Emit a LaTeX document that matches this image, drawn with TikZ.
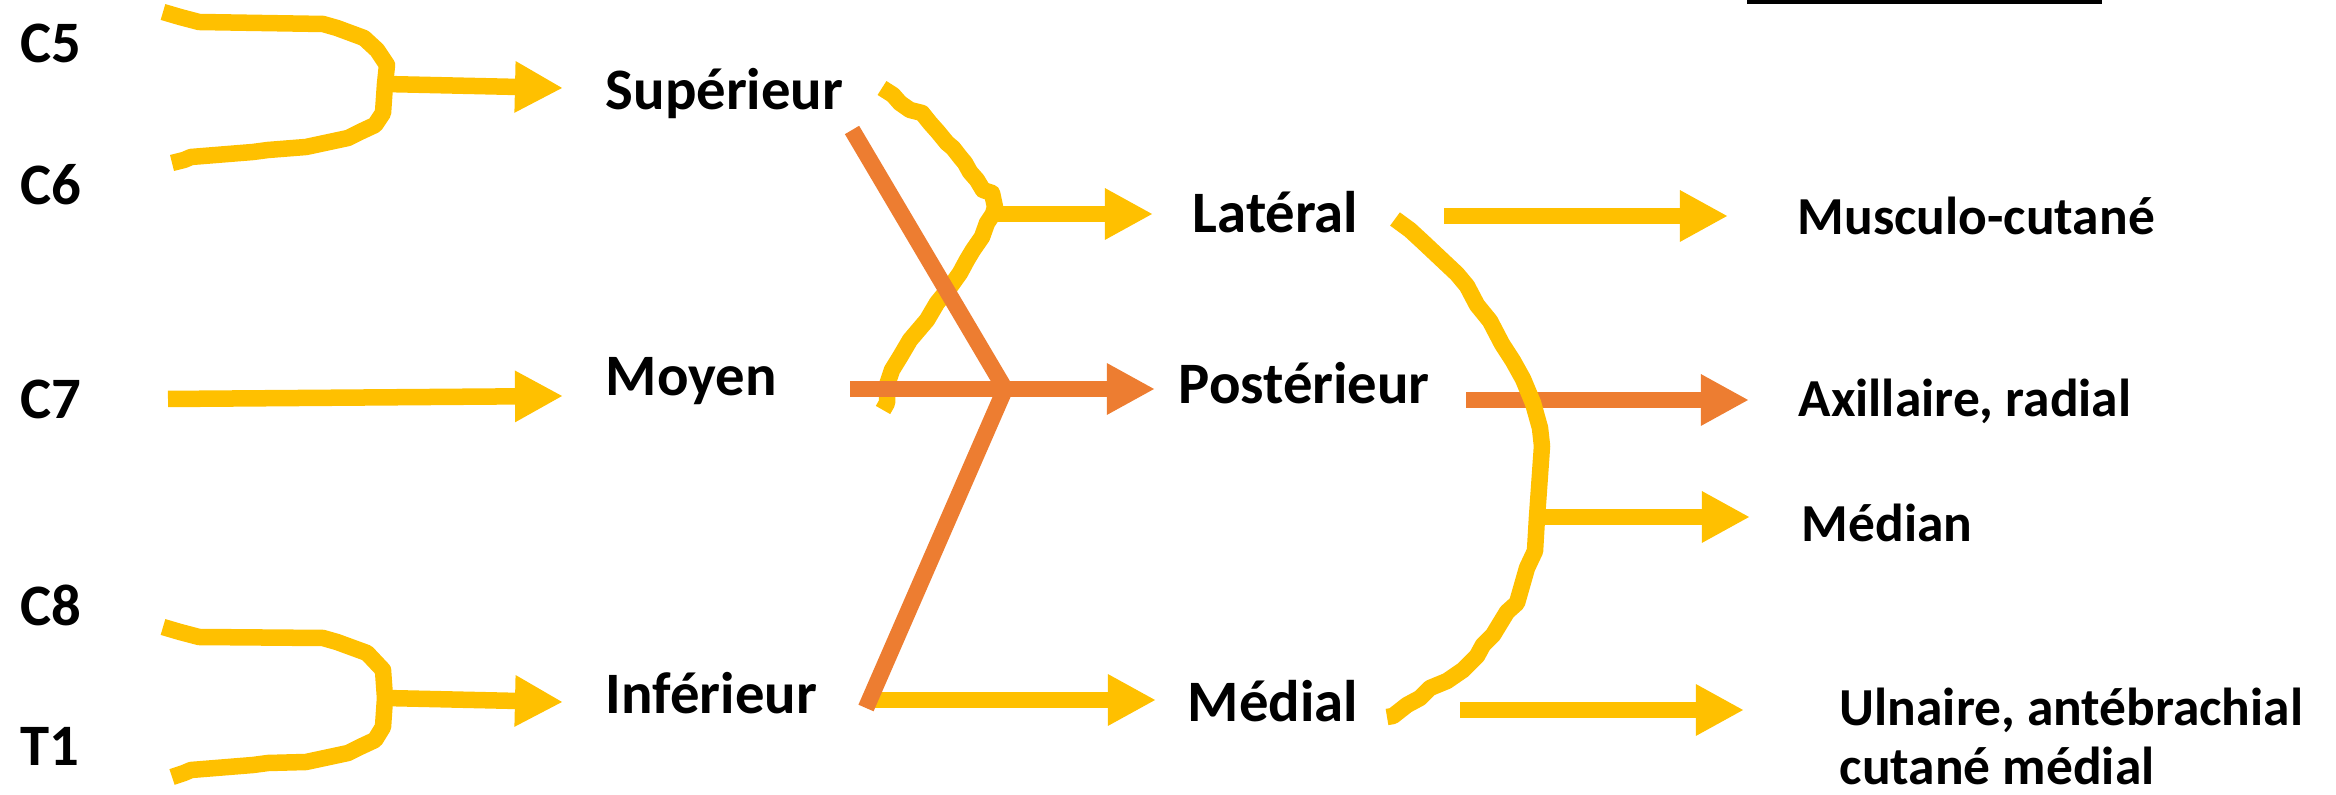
\documentclass[tikz,border=0pt]{standalone}
\usepackage{fontspec}
\setmainfont{Carlito}
\usetikzlibrary{arrows.meta}
\definecolor{gold}{HTML}{FFC000}
\definecolor{orng}{HTML}{ED7D31}
\tikzset{
  lbl/.style={anchor=base west, inner sep=0pt, font=\fontsize{15.2}{18}\selectfont\bfseries},
  lblb/.style={anchor=base west, inner sep=0pt, font=\fontsize{16.7}{20}\selectfont\bfseries},
  yl/.style={draw=gold, line width=0.165cm},
  ol/.style={draw=orng, line width=0.165cm},
  yarr/.style={yl, -{Triangle[length=0.48cm,width=0.48cm]}},
  oarr/.style={ol, -{Triangle[length=0.48cm,width=0.48cm]}},
  wavy/.style={yl, line join=round},
}
\begin{document}
\begin{tikzpicture}[x=0.01cm,y=-0.01cm]
\useasboundingbox (0,0) rectangle (2336,795);
% labels
\node[lblb] (c5) at (20,63) {C5};
\node[lblb] (c6) at (20,205) {C6};
\node[lblb] (c7) at (20,419) {C7};
\node[lblb] (c8) at (20,626) {C8};
\node[lblb] (t1) at (20,766) {T1};
\node[lblb] (sup) at (605,110) {Supérieur};
\node[lblb] (moy) at (605,396) {Moyen};
\node[lblb] (inf) at (605,714) {Inférieur};
\node[lblb] (lat) at (1192,233) {Latéral};
\node[lblb] (post) at (1178,404) {Postérieur};
\node[lblb] (med) at (1187,722) {Médial};
\node[lbl] (musc) at (1797,235) {Musculo-cutané};
\node[lbl] (axil) at (1798,417) {Axillaire, radial};
\node[lbl] (mdn) at (1801,542) {Médian};
\node[lbl] (ulnA) at (1839,726) {Ulnaire, antébrachial};
\node[lbl] (ulnB) at (1839,785) {cutané médial};
% top rule
\fill[black] (1747,0) rectangle (2102,4);
% coordinates
\coordinate (f1s) at (385,84);  \coordinate (f1t) at (563,88);
\coordinate (f2s) at (385,698); \coordinate (f2t) at (563,702);
\coordinate (c7s) at (168,399); \coordinate (c7t) at (563,396);
\coordinate (J1) at (993,214);  \coordinate (latT) at (1153,214);
\coordinate (supO) at (852,130); \coordinate (J2) at (1005,389); \coordinate (infO) at (866,708);
\coordinate (moyO) at (850,389); \coordinate (postT) at (1155,389);
\coordinate (infY) at (866,700); \coordinate (medT) at (1156,700);
\coordinate (latS) at (1444,216); \coordinate (muscT) at (1728,216);
\coordinate (postS) at (1466,400); \coordinate (axilT) at (1749,400);
\coordinate (J3) at (1537,517); \coordinate (mdnT) at (1750,517);
\coordinate (medS) at (1460,710); \coordinate (ulnT) at (1744,710);
% upper fork C5/C6
\draw[wavy] (163,12) -- (180,17) -- (199,22) -- (323,24) -- (337,28) -- (364,38) -- (377,50) -- (387,65) -- (385,84)
  -- (383,113) -- (375,125) -- (360,132) -- (348,138) -- (306,147) -- (268,150) -- (253,152) -- (191,157) -- (184,160) -- (172,163);
\draw[yarr] (f1s) -- (f1t);
% C7
\draw[yarr] (c7s) -- (c7t);
% lower fork C8/T1
\draw[wavy] (163,627) -- (180,632) -- (199,637) -- (323,638) -- (337,642) -- (367,653) -- (383,670) -- (385,698)
  -- (383,727) -- (375,740) -- (360,747) -- (348,753) -- (306,762) -- (268,763) -- (253,765) -- (191,770) -- (184,773) -- (172,777);
\draw[yarr] (f2s) -- (f2t);
% lateral cord wavy
\draw[wavy] (882,88) -- (893,95) -- (900,103) -- (910,110) -- (922,113) -- (930,123) -- (938,132) -- (947,143) -- (953,148) -- (960,157)
  -- (965,163) -- (970,172) -- (977,180) -- (983,190) -- (992,193) -- (995,207) -- (J1) -- (987,223) -- (982,237) -- (973,250) -- (967,260)
  -- (960,273) -- (950,287) -- (937,303) -- (927,320) -- (910,340) -- (900,357) -- (892,370) -- (887,385) -- (887,403) -- (883,410);
\draw[yarr] (J1) -- (latT);
% medial cord
\draw[yarr] (infY) -- (medT);
% posterior cord
\draw[ol] (supO) -- (J2) -- (infO);
\draw[oarr] (moyO) -- (postT);
% right side
\draw[yarr] (latS) -- (muscT);
\draw[oarr] (postS) -- (axilT);
\draw[yarr] (medS) -- (ulnT);
\draw[wavy] (1395,219) -- (1410,230) -- (1423,242) -- (1440,258) -- (1457,274) -- (1467,286) -- (1477,305) -- (1490,321) -- (1502,344)
  -- (1513,361) -- (1523,379) -- (1533,403) -- (1540,428) -- (1542,446) -- (J3) -- (1535,551) -- (1527,568) -- (1517,603)
  -- (1507,612) -- (1493,635) -- (1483,645) -- (1477,656) -- (1463,670) -- (1447,681) -- (1430,688) -- (1420,698) -- (1407,705)
  -- (1393,716) -- (1387,717);
\draw[yarr] (J3) -- (mdnT);
\end{tikzpicture}
\end{document}
